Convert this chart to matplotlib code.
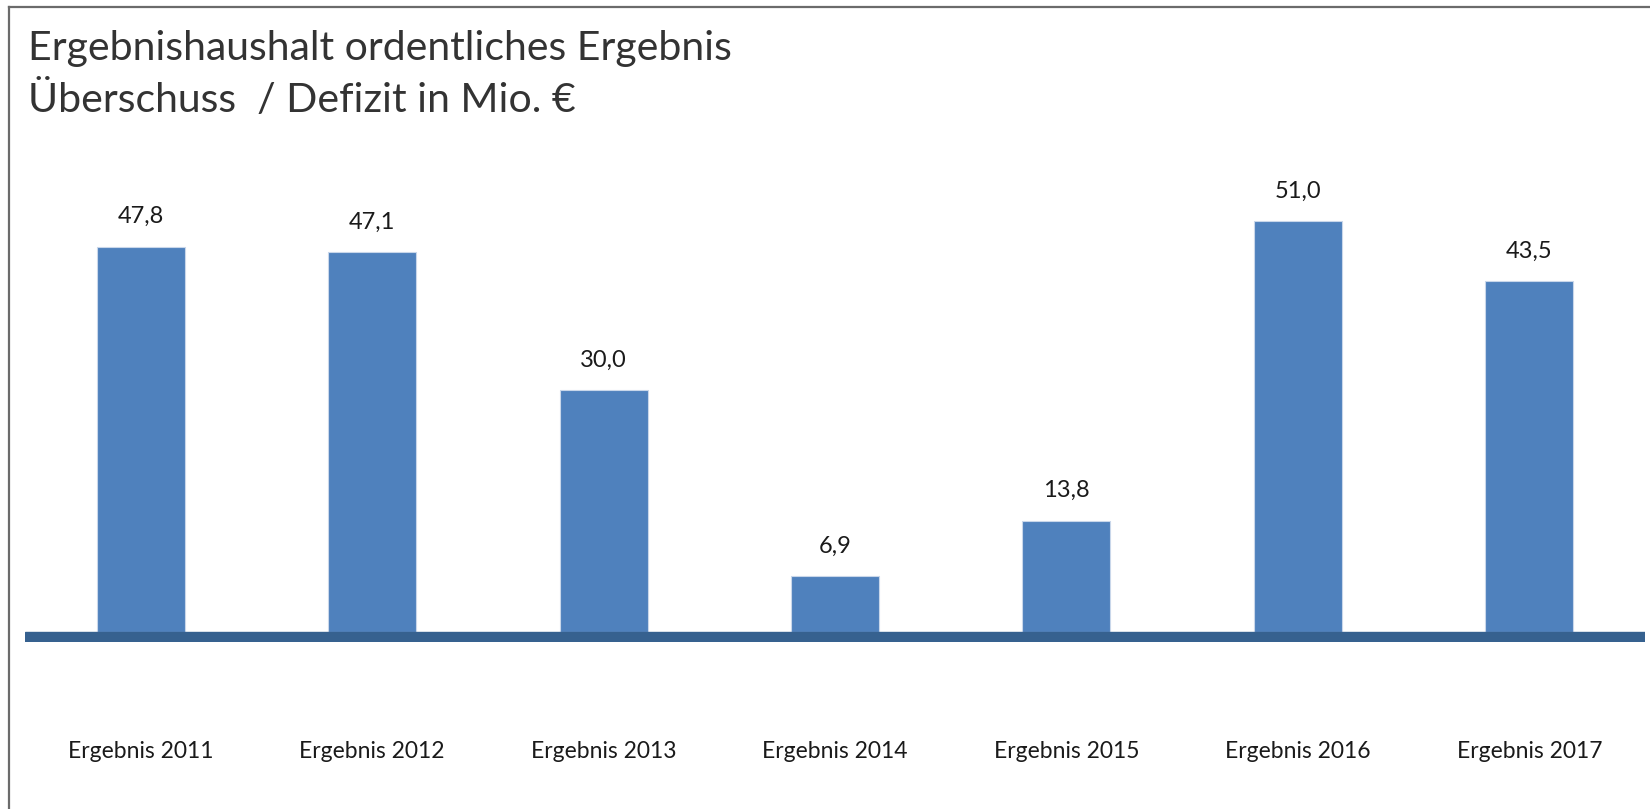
import matplotlib
matplotlib.use("Agg")
import matplotlib.pyplot as plt
from matplotlib.lines import Line2D

# data
kategorien = ["Ergebnis 2011", "Ergebnis 2012", "Ergebnis 2013", "Ergebnis 2014",
              "Ergebnis 2015", "Ergebnis 2016", "Ergebnis 2017"]
werte = [47.8, 47.1, 30.0, 6.9, 13.8, 51.0, 43.5]
titel = ["Ergebnishaushalt ordentliches Ergebnis", "Überschuss  / Defizit in Mio. €"]

plt.rcParams["font.family"] = ["Lato", "DejaVu Sans"]

W, H = 1650, 809
fig = plt.figure(figsize=(W / 100, H / 100), dpi=100)

# axes in pixel terms: zero line at y=632, 8.06 px per unit
px_unit = 8.06
y0 = -10 / px_unit
y1 = 59.0
ax_bottom = H - 642
ax_h = (y1 - y0) * px_unit
ax = fig.add_axes([25 / W, ax_bottom / H, 1620 / W, ax_h / H])

x = list(range(len(werte)))
ax.bar(x, werte, width=0.38, color="#4F81BD", edgecolor="#C9D7EA", linewidth=0.8, zorder=2)
ax.axhspan(y0, 0, color="#36618F", zorder=3)

ax.set_xlim(-0.5, 6.5)
ax.set_ylim(y0, y1)

for xi, v in zip(x, werte):
    ax.annotate(f"{v:.1f}".replace(".", ","), (xi, v), xytext=(0, 30 * 0.72),
                textcoords="offset points", ha="center", va="center",
                fontsize=17, color="#1a1a1a")

ax.set_xticks(x)
ax.set_xticklabels(kategorien, fontsize=16.5, color="#1a1a1a")
ax.tick_params(axis="x", length=0, pad=110 * 0.72)
for t in ax.get_xticklabels():
    t.set_va("center")
ax.set_yticks([])
for s in ax.spines.values():
    s.set_visible(False)

fig.text(28 / W, 1 - 60 / H, titel[0], fontsize=29.5, color="#333333", va="baseline")
fig.text(28 / W, 1 - 112 / H, titel[1], fontsize=29.5, color="#333333", va="baseline")

# frame lines top and left
fig.add_artist(Line2D([9 / W, 1], [1 - 6.5 / H, 1 - 6.5 / H], color="#6b6b6b", lw=1.6))
fig.add_artist(Line2D([9 / W, 9 / W], [0, 1 - 6.5 / H], color="#6b6b6b", lw=1.6))

fig.savefig("out.png", dpi=100)
